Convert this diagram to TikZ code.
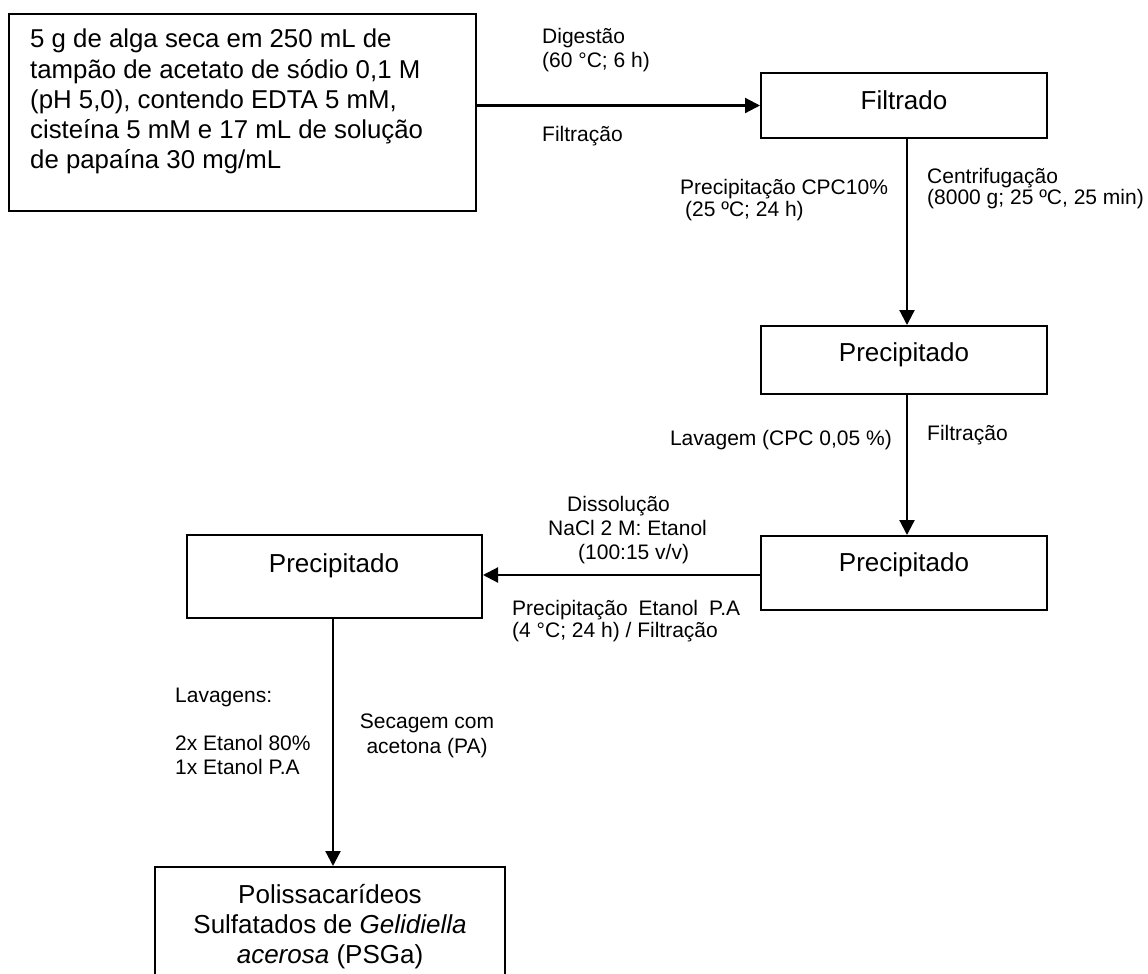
\documentclass[tikz,border=0pt]{standalone}
\usepackage{fontspec}
\setmainfont{Liberation Sans}
\usetikzlibrary{arrows.meta}
\begin{document}
\begin{tikzpicture}[x=1pt,y=-1pt,
  box/.style={draw, line width=2pt, rectangle, inner sep=0pt},
  bt/.style={font=\fontsize{26}{30}\selectfont, inner sep=0pt, anchor=base},
  st/.style={font=\fontsize{25.8}{30}\selectfont, inner sep=0pt, anchor=base west},
  lb/.style={font=\fontsize{21}{23}\selectfont, inner sep=0pt, anchor=base west},
  arr/.style={line width=2.2pt, -{Triangle[length=15pt,width=15pt]}},
]
\useasboundingbox (0,0) rectangle (1148,974);
\clip (0,0) rectangle (1148,974);

% boxes
\node[box, minimum width=467, minimum height=197] (src) at (242.5,112.5) {};
\node[st] (s1) at (30,48) {5 g de alga seca em 250 mL de};
\node[st] (s2) at (30,78) {tampão de acetato de sódio 0,1 M};
\node[st] (s3) at (30,108) {(pH 5,0), contendo EDTA 5 mM,};
\node[st] (s4) at (30,138) {cisteína 5 mM e 17 mL de solução};
\node[st] (s5) at (30,168) {de papaína 30 mg/mL};

\node[box, minimum width=286, minimum height=65] (filt) at (904,105.5) {};
\node[bt] (filtT) at (904,109) {Filtrado};

\node[box, minimum width=286, minimum height=68] (p1) at (904,360) {};
\node[bt] (p1T) at (904,361) {Precipitado};

\node[box, minimum width=286, minimum height=74] (p2) at (904,573) {};
\node[bt] (p2T) at (904,571) {Precipitado};

\node[box, minimum width=295, minimum height=83] (p3) at (334.5,576.5) {};
\node[bt] (p3T) at (334,572) {Precipitado};

\node[box, minimum width=350, minimum height=160] (fin) at (330,947) {};
\node[bt] (f1) at (330,903) {Polissacarídeos};
\node[bt] (f2) at (330,933) {Sulfatados de \textit{Gelidiella}};
\node[bt] (f3) at (330,963) {\textit{acerosa} (PSGa)};

% connectors
\coordinate (p2w) at ([yshift=-2pt]p2.west);
\draw[arr] (src.east |- filt.west) -- (filt.west);
\draw[arr] ([xshift=3pt]filt.south) -- ([xshift=3pt]p1.north);
\draw[arr] ([xshift=3pt]p1.south) -- ([xshift=3pt]p2.north);
\draw[arr] (p2w) -- (p3.east |- p2w);
\draw[arr] ([xshift=-1.5pt]p3.south) -- ([xshift=-1.5pt]p3.south |- fin.north);

% labels
\node[lb] (dg1) at (542,43.5) {Digestão};
\node[lb] (dg2) at (542,67) {(60 °C; 6 h)};
\node[lb] (ft1) at (542,141) {Filtração};
\node[lb] (pc1) at (680,194) {Precipitação CPC10\%};
\node[lb] (pc2) at (685,216) {(25 ºC; 24 h)};
\node[lb] (cf1) at (927,183) {Centrifugação};
\node[lb] (cf2) at (927,204) {(8000 g; 25 ºC, 25 min)};
\node[lb, anchor=base east] (lv) at (892,445) {Lavagem (CPC 0,05 \%)};
\node[lb] (ft2) at (927,440) {Filtração};
\node[lb] (ds1) at (567,511) {Dissolução};
\node[lb] (ds2) at (548,535) {NaCl 2 M: Etanol};
\node[lb] (ds3) at (578,559) {(100:15 v/v)};
\node[lb] (pe1) at (512,615) {\makebox[228pt][s]{Precipitação Etanol P.A}};
\node[lb] (pe2) at (512,637) {(4 °C; 24 h) / Filtração};
\node[lb] (lg1) at (175,702) {Lavagens:};
\node[lb] (lg2) at (175,750) {2x Etanol 80\%};
\node[lb] (lg3) at (175,774) {1x Etanol P.A};
\node[lb, anchor=base] (sc1) at (427,728) {Secagem com};
\node[lb, anchor=base] (sc2) at (427,753) {acetona (PA)};
\end{tikzpicture}
\end{document}
